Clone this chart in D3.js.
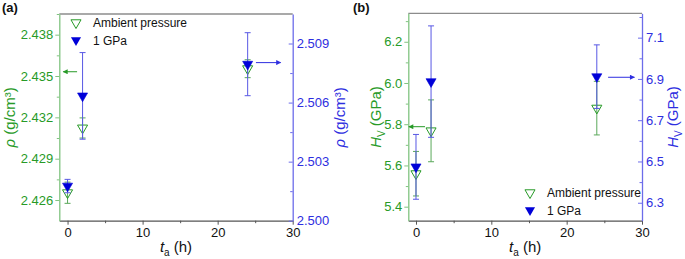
<!DOCTYPE html>
<html lang="en">
<head>
<meta charset="UTF-8">
<title>Density and hardness vs annealing time</title>
<script src="https://d3js.org/d3.v7.min.js"></script>
<style>
  body { margin: 0; background: #fff; font-family: Arial, "Liberation Sans", sans-serif; }
  svg { display: block; }
  .tick text { font-size: 13px; font-family: Arial, "Liberation Sans", sans-serif; }
</style>
</head>
<body>
<svg id="chart" width="685" height="259"></svg>
<script>
// annealing time (h)
const hours = [0, 2, 24];

// (a) density, g/cm3
const densAmbient = [2.42653, 2.43123, 2.43553];
const densAmbientErr = [0.00077, 0.00073, 0.00065];
const dens1GPa = [2.50176, 2.50634, 2.50795];
const dens1GPaErr = [0.00034, 0.0022, 0.0016];

// (b) Vickers hardness, GPa
const hvAmbient = [5.56, 5.768, 5.878];
const hvAmbientErr = [0.108, 0.15, 0.13];
const hv1GPa = [6.474, 6.887, 6.911];
const hv1GPaErr = [0.157, 0.27, 0.154];

// tick labels
const timeTicks = [0, 10, 20, 30];
const densLeftTicks = [2.426, 2.429, 2.432, 2.435, 2.438];
const densRightTicks = [2.500, 2.503, 2.506, 2.509];
const hvLeftTicks = [5.4, 5.6, 5.8, 6.0, 6.2];
const hvRightTicks = [6.3, 6.5, 6.7, 6.9, 7.1];

// axis-pointing arrows: [y value, x from, x to]
const densArrowAmbient = [2.43531, 1.27, -0.58];
const densArrow1GPa = [2.50803, 25.1, 28.4];
const hvArrowAmbient = [5.788, 1.2, -0.95];
const hvArrow1GPa = [6.908, 25.5, 29.0];

const seriesNames = ["Ambient pressure", "1 GPa"];

const green = "#279a27", greenAxis = "#80c480", greenBar = "#5aa85a";
const blue = "#2e2ee0", blueAxis = "#6c6cea", blueBar = "#5858e4", blueFill = "#0000d8";

const svg = d3.select("#chart");

const defs = svg.append("defs");
[["arrG", green], ["arrB", blue]].forEach(([id, c]) => {
  defs.append("marker").attr("id", id)
    .attr("viewBox", "0 0 10 10").attr("refX", 9).attr("refY", 5)
    .attr("markerWidth", 6).attr("markerHeight", 5)
    .attr("markerUnits", "userSpaceOnUse").attr("orient", "auto")
    .append("path").attr("d", "M0,0L10,5L0,10z").attr("fill", c);
});

function minorTicks(ticks, domain) {
  const step = ticks[1] - ticks[0];
  const out = [];
  for (let v = ticks[0] - step / 2; v < domain[1]; v += step) {
    if (v > domain[0] && v < domain[1]) out.push(v);
  }
  return out;
}

const tri = d3.symbol().type(d3.symbolTriangle).size(44);

function drawPanel(p) {
  const x = d3.scaleLinear().domain(p.xDomain).range([p.left, p.right]);
  const yL = d3.scaleLinear().domain(p.leftDomain).range([p.bottom, p.top]);
  const yR = d3.scaleLinear().domain(p.rightDomain).range([p.bottom, p.top]);
  const g = svg.append("g");

  g.append("line")
    .attr("x1", p.left).attr("x2", p.right)
    .attr("y1", p.top).attr("y2", p.top)
    .attr("stroke", "#8c8c8c").attr("stroke-width", 1.3);

  // x axis
  const xa = g.append("g").attr("transform", `translate(0,${p.bottom})`)
    .call(d3.axisBottom(x).tickValues(timeTicks).tickFormat(d3.format("d"))
      .tickSize(4).tickSizeOuter(0).tickPadding(3));
  g.append("g").attr("transform", `translate(0,${p.bottom})`)
    .call(d3.axisBottom(x).tickValues(minorTicks(timeTicks, p.xDomain)).tickFormat("")
      .tickSize(2.5).tickSizeOuter(0))
    .select(".domain").remove();
  g.selectAll("g").filter(function() { return this.parentNode === g.node(); })
    .selectAll("line, path").attr("stroke", "#555");
  xa.select(".domain").attr("stroke-width", 1.3);
  xa.selectAll("text").attr("fill", "#111");

  // left axis
  const la = g.append("g").attr("transform", `translate(${p.left},0)`)
    .call(d3.axisLeft(yL).tickValues(p.leftTicks).tickFormat(p.fmt)
      .tickSize(4).tickSizeOuter(0).tickPadding(2));
  const lm = g.append("g").attr("transform", `translate(${p.left},0)`)
    .call(d3.axisLeft(yL).tickValues(minorTicks(p.leftTicks, p.leftDomain)).tickFormat("")
      .tickSize(2.5).tickSizeOuter(0));
  lm.select(".domain").remove();
  [la, lm].forEach(a => a.selectAll("line, path").attr("stroke", greenAxis));
  la.select(".domain").attr("stroke-width", 1.3);
  la.selectAll("text").attr("fill", green);

  // right axis, ticks point inward
  const ra = g.append("g").attr("transform", `translate(${p.right},0)`)
    .call(d3.axisRight(yR).tickValues(p.rightTicks).tickFormat(p.fmt)
      .tickSize(-4).tickSizeOuter(0).tickPadding(4));
  const rm = g.append("g").attr("transform", `translate(${p.right},0)`)
    .call(d3.axisRight(yR).tickValues(minorTicks(p.rightTicks, p.rightDomain)).tickFormat("")
      .tickSize(-2.5).tickSizeOuter(0));
  rm.select(".domain").remove();
  [ra, rm].forEach(a => a.selectAll("line, path").attr("stroke", blueAxis));
  ra.select(".domain").attr("stroke-width", 1.3);
  ra.selectAll("text").attr("fill", blue);

  // error bars + markers
  function series(vals, errs, y, color) {
    const rows = hours.map((h, i) => ({ h, v: vals[i], e: errs[i] }));
    const eb = g.append("g").attr("stroke", color).attr("stroke-width", 1);
    eb.selectAll(".bar").data(rows).enter().append("line")
      .attr("x1", d => x(d.h)).attr("x2", d => x(d.h))
      .attr("y1", d => y(d.v - d.e)).attr("y2", d => y(d.v + d.e));
    eb.selectAll(".capLo").data(rows).enter().append("line")
      .attr("x1", d => x(d.h) - 3).attr("x2", d => x(d.h) + 3)
      .attr("y1", d => y(d.v - d.e)).attr("y2", d => y(d.v - d.e));
    eb.selectAll(".capHi").data(rows).enter().append("line")
      .attr("x1", d => x(d.h) - 3).attr("x2", d => x(d.h) + 3)
      .attr("y1", d => y(d.v + d.e)).attr("y2", d => y(d.v + d.e));
    return rows;
  }
  const gRows = series(p.ambient, p.ambientErr, yL, greenBar);
  g.append("g").selectAll("path").data(gRows).enter().append("path")
    .attr("d", tri).attr("transform", d => `translate(${x(d.h)},${yL(d.v)}) rotate(180)`)
    .attr("fill", "none").attr("stroke", green).attr("stroke-width", 1);
  const bRows = series(p.gpa, p.gpaErr, yR, blueBar);
  g.append("g").selectAll("path").data(bRows).enter().append("path")
    .attr("d", tri).attr("transform", d => `translate(${x(d.h)},${yR(d.v)}) rotate(180)`)
    .attr("fill", blueFill).attr("stroke", blueFill).attr("stroke-width", 0.6);

  // arrows
  g.append("line")
    .attr("x1", x(p.arrowA[1])).attr("x2", x(p.arrowA[2]))
    .attr("y1", yL(p.arrowA[0])).attr("y2", yL(p.arrowA[0]))
    .attr("stroke", green).attr("stroke-width", 1).attr("marker-end", "url(#arrG)");
  g.append("line")
    .attr("x1", x(p.arrowB[1])).attr("x2", x(p.arrowB[2]))
    .attr("y1", yR(p.arrowB[0])).attr("y2", yR(p.arrowB[0]))
    .attr("stroke", blue).attr("stroke-width", 1).attr("marker-end", "url(#arrB)");

  // legend
  const lg = g.append("g").attr("font-size", 12).attr("fill", "#111");
  lg.append("path").attr("d", tri)
    .attr("transform", `translate(${p.legend[0]},${p.legend[1]}) rotate(180)`)
    .attr("fill", "none").attr("stroke", green);
  lg.append("path").attr("d", tri)
    .attr("transform", `translate(${p.legend[0]},${p.legend[1] + 17.5}) rotate(180)`)
    .attr("fill", blueFill);
  seriesNames.forEach((n, i) => {
    lg.append("text").attr("x", p.legend[0] + 17).attr("y", p.legend[1] + 4.5 + i * 17.5).text(n);
  });

  // axis titles
  const cy = (p.top + p.bottom) / 2;
  const xl = g.append("text").attr("x", (p.left + p.right) / 2).attr("y", 252)
    .attr("text-anchor", "middle").attr("font-size", 15).attr("fill", "#111");
  xl.append("tspan").attr("font-style", "italic").text("t");
  xl.append("tspan").attr("font-size", 10).attr("dy", 4).text("a");
  xl.append("tspan").attr("dy", -4).text(" (h)");

  [[p.leftLabelX, green], [p.rightLabelX, blue]].forEach(([bx, c]) => {
    const t = g.append("text").attr("transform", `translate(${bx},${cy}) rotate(-90)`)
      .attr("text-anchor", "middle").attr("font-size", 15).attr("fill", c);
    p.yTitle(t);
  });

  g.append("text").attr("x", p.tag[0]).attr("y", p.tag[1])
    .attr("font-size", 13).attr("font-weight", "bold").attr("fill", "#111").text(p.tagText);
}

function densTitle(t) {
  t.append("tspan").attr("font-style", "italic").text("\u03c1");
  t.append("tspan").text(" (g/cm\u00b3)");
}
function hvTitle(t) {
  t.append("tspan").attr("font-style", "italic").text("H");
  t.append("tspan").attr("font-size", 10).attr("dy", 4).text("V");
  t.append("tspan").attr("dy", -4).text(" (GPa)");
}

drawPanel({
  left: 59.3, right: 292.7, top: 14, bottom: 220.7,
  xDomain: [-1.1, 30], leftDomain: [2.4245, 2.4395], rightDomain: [2.5, 2.5105],
  leftTicks: densLeftTicks, rightTicks: densRightTicks, fmt: d3.format(".3f"),
  ambient: densAmbient, ambientErr: densAmbientErr, gpa: dens1GPa, gpaErr: dens1GPaErr,
  arrowA: densArrowAmbient, arrowB: densArrow1GPa,
  legend: [76, 22.7], leftLabelX: 15, rightLabelX: 345, yTitle: densTitle,
  tag: [2, 12], tagText: "(a)"
});

drawPanel({
  left: 408.3, right: 642, top: 13.3, bottom: 220.7,
  xDomain: [-1.02, 30], leftDomain: [5.332, 6.338], rightDomain: [6.213, 7.218],
  leftTicks: hvLeftTicks, rightTicks: hvRightTicks, fmt: d3.format(".1f"),
  ambient: hvAmbient, ambientErr: hvAmbientErr, gpa: hv1GPa, gpaErr: hv1GPaErr,
  arrowA: hvArrowAmbient, arrowB: hvArrow1GPa,
  legend: [530, 192.7], leftLabelX: 381, rightLabelX: 678, yTitle: hvTitle,
  tag: [353, 12], tagText: "(b)"
});
</script>
</body>
</html>
